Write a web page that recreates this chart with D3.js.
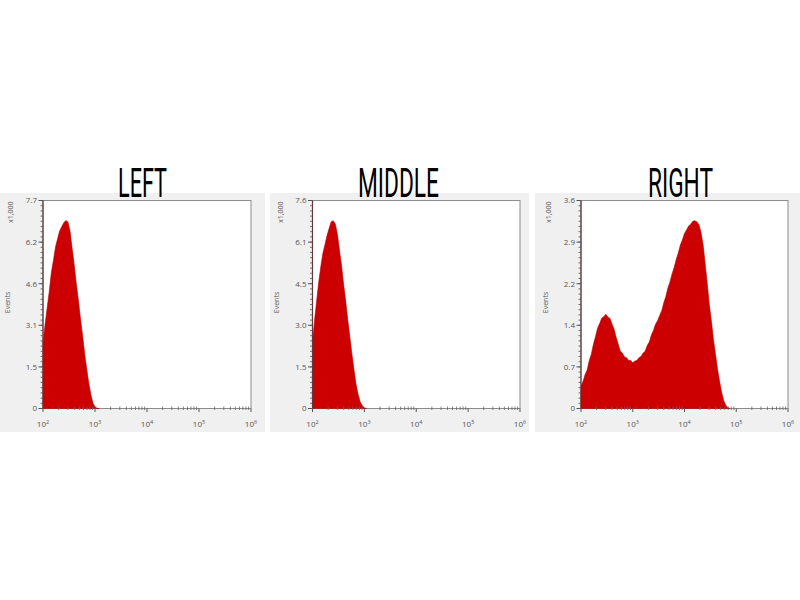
<!DOCTYPE html>
<html>
<head>
<meta charset="utf-8">
<script src="https://cdn.jsdelivr.net/npm/d3@7"></script>
<style>
  body { margin: 0; background: #fff; }
  svg { display: block; }
</style>
</head>
<body>
<script>
// Panel titles and y axis maxima (x1,000 events)
var titles = ["LEFT", "MIDDLE", "RIGHT"];
var yMaxes = [7.7, 7.6, 3.6];
var yTickLabels = [
    ["0", "1.5", "3.1", "4.6", "6.2", "7.7"],
    ["0", "1.5", "3.0", "4.5", "6.1", "7.6"],
    ["0", "0.7", "1.4", "2.2", "2.9", "3.6"]
];
var xDecades = [2, 3, 4, 5, 6];

// histogram bins, log10 channel starting at 10^2, step 0.04
var binStart = 2, binStep = 0.04;

var leftCounts = [
    2.45, 3.1, 3.72, 4.33, 5.02, 5.48, 5.97, 6.28, 6.57, 6.73,
    6.88, 6.96, 6.9, 6.57, 5.93, 5.32, 4.63, 4.02, 3.33, 2.72,
    2.04, 1.47, 0.94, 0.52, 0.2, 0.06, 0.01, 0
];
var middleCounts = [
    2.4, 3.22, 3.93, 4.62, 5.18, 5.67, 5.98, 6.32, 6.58, 6.82,
    6.86, 6.74, 6.37, 5.78, 5.22, 4.53, 3.92, 3.23, 2.62, 1.98,
    1.42, 0.88, 0.51, 0.24, 0.1, 0.03, 0
];
var rightCounts = [
    0.38, 0.47, 0.59, 0.67, 0.83, 0.94, 1.11, 1.24, 1.39, 1.47,
    1.56, 1.59, 1.63, 1.58, 1.56, 1.46, 1.37, 1.23, 1.11, 0.99,
    0.96, 0.89, 0.88, 0.83, 0.83, 0.79, 0.82, 0.83, 0.88, 0.9,
    0.96, 0.99, 1.09, 1.15, 1.27, 1.35, 1.46, 1.52, 1.61, 1.69,
    1.83, 1.94, 2.09, 2.19, 2.33, 2.44, 2.58, 2.69, 2.83, 2.92,
    3.03, 3.09, 3.16, 3.19, 3.24, 3.25, 3.23, 3.18, 3.04, 2.83,
    2.5, 2.16, 1.79, 1.51, 1.19, 0.93, 0.67, 0.46, 0.27, 0.13,
    0.05, 0.015, 0
];
var allCounts = [leftCounts, middleCounts, rightCounts];

// layout of the three panels
var panels = [
    {bgX: 0,   bgW: 265, left: 43,  right: 251, titleX: 142.5, titleW: 49},
    {bgX: 270, bgW: 259, left: 312.5, right: 520, titleX: 398.5, titleW: 81},
    {bgX: 535, bgW: 265, left: 581, right: 788, titleX: 680.5, titleW: 65}
];
var plotTop = 200.5, plotBottom = 408.5;
var bgTop = 193, bgBottom = 432;

var svg = d3.select("body")
    .append("svg")
        .attr("width", 800)
        .attr("height", 600);

panels.forEach(function(p, k) {
    var counts = allCounts[k];
    var data = counts.map(function(c, i) {
        return {ch: Math.pow(10, binStart + i * binStep), v: c};
    });

    var x = d3.scaleLog().domain([1e2, 1e6]).range([p.left, p.right]);
    var y = d3.scaleLinear().domain([0, yMaxes[k]]).range([plotBottom, plotTop]);

    // gray panel background
    svg.append("rect")
        .attr("x", p.bgX).attr("y", bgTop)
        .attr("width", p.bgW).attr("height", bgBottom - bgTop)
        .attr("fill", "#f0f0f0");

    // plot area
    svg.append("rect")
        .attr("x", p.left).attr("y", plotTop)
        .attr("width", p.right - p.left).attr("height", plotBottom - plotTop)
        .attr("fill", "#fff")
        .attr("stroke", "#8c8c8c")
        .attr("stroke-width", 1);

    // histogram
    var area = d3.area()
        .x(function(d) { return x(d.ch); })
        .y0(plotBottom)
        .y1(function(d) { return y(d.v); });

    svg.append("path")
        .attr("d", area(data))
        .attr("fill", "#cc0000")
        .attr("stroke", "#b00000")
        .attr("stroke-width", 0.6);

    // y axis: majors at fifths of the max, minors in between
    var yAxis = svg.append("g");
    yAxis.append("line")
        .attr("x1", p.left).attr("x2", p.left)
        .attr("y1", plotTop).attr("y2", plotBottom)
        .attr("stroke", "#5a3a3a").attr("stroke-width", 1.2);
    var majors = d3.range(6).map(function(i) { return yMaxes[k] * i / 5; });
    var minors = d3.range(41).map(function(i) { return yMaxes[k] * i / 40; });
    yAxis.selectAll(".minor").data(minors).enter().append("line")
        .attr("x1", p.left - 2.5).attr("x2", p.left)
        .attr("y1", function(d) { return y(d); })
        .attr("y2", function(d) { return y(d); })
        .attr("stroke", "#6a4a4a").attr("stroke-width", 0.8);
    yAxis.selectAll(".major").data(majors).enter().append("line")
        .attr("x1", p.left - 4.5).attr("x2", p.left)
        .attr("y1", function(d) { return y(d); })
        .attr("y2", function(d) { return y(d); })
        .attr("stroke", "#555").attr("stroke-width", 1);
    yAxis.selectAll(".lbl").data(majors).enter().append("text")
        .attr("x", p.left - 6)
        .attr("y", function(d) { return y(d); })
        .attr("dy", "0.35em")
        .attr("text-anchor", "end")
        .style("font-family", "'Open Sans', sans-serif")
        .style("font-size", "8px")
        .attr("fill", "#555")
        .text(function(d, i) { return yTickLabels[k][i]; });

    // x axis: log decades with minor ticks
    var xAxis = svg.append("g");
    var xMinors = [];
    xDecades.slice(0, -1).forEach(function(e) {
        for (var m = 2; m <= 9; m++) xMinors.push(m * Math.pow(10, e));
    });
    xAxis.selectAll(".xminor").data(xMinors).enter().append("line")
        .attr("x1", function(d) { return x(d); })
        .attr("x2", function(d) { return x(d); })
        .attr("y1", plotBottom - 2).attr("y2", plotBottom + 1.5)
        .attr("stroke", "#666").attr("stroke-width", 0.8);
    xAxis.selectAll(".xmajor").data(xDecades).enter().append("line")
        .attr("x1", function(d) { return x(Math.pow(10, d)); })
        .attr("x2", function(d) { return x(Math.pow(10, d)); })
        .attr("y1", plotBottom).attr("y2", plotBottom + 3.5)
        .attr("stroke", "#555").attr("stroke-width", 1);
    var xl = xAxis.selectAll(".xlbl").data(xDecades).enter().append("text")
        .attr("x", function(d) { return x(Math.pow(10, d)); })
        .attr("y", plotBottom + 18)
        .attr("text-anchor", "middle")
        .style("font-family", "'Open Sans', sans-serif")
        .style("font-size", "8px")
        .attr("fill", "#555");
    xl.append("tspan").text("10");
    xl.append("tspan")
        .attr("dy", -3)
        .style("font-size", "5.5px")
        .text(function(d) { return d; });

    // axis captions
    svg.append("text")
        .attr("transform", "translate(" + (p.left - 30) + "," + (plotTop + 1) + ") rotate(-90)")
        .attr("text-anchor", "end")
        .style("font-family", "'Open Sans', sans-serif")
        .style("font-size", "7px")
        .attr("fill", "#555")
        .text("x1,000");
    svg.append("text")
        .attr("transform", "translate(" + (p.left - 33.5) + "," + ((plotTop + plotBottom) / 2 - 2) + ") rotate(-90)")
        .attr("text-anchor", "middle")
        .style("font-family", "'Open Sans', sans-serif")
        .style("font-size", "7px")
        .attr("fill", "#555")
        .text("Events");

    // title
    svg.append("text")
        .attr("x", p.titleX - p.titleW / 2)
        .attr("y", 197)
        .attr("textLength", p.titleW)
        .attr("lengthAdjust", "spacingAndGlyphs")
        .style("font-family", "Roboto, sans-serif")
        .style("font-weight", 400)
        .style("font-size", "40px")
        .attr("fill", "#000")
        .text(titles[k]);
});
</script>
</body>
</html>
